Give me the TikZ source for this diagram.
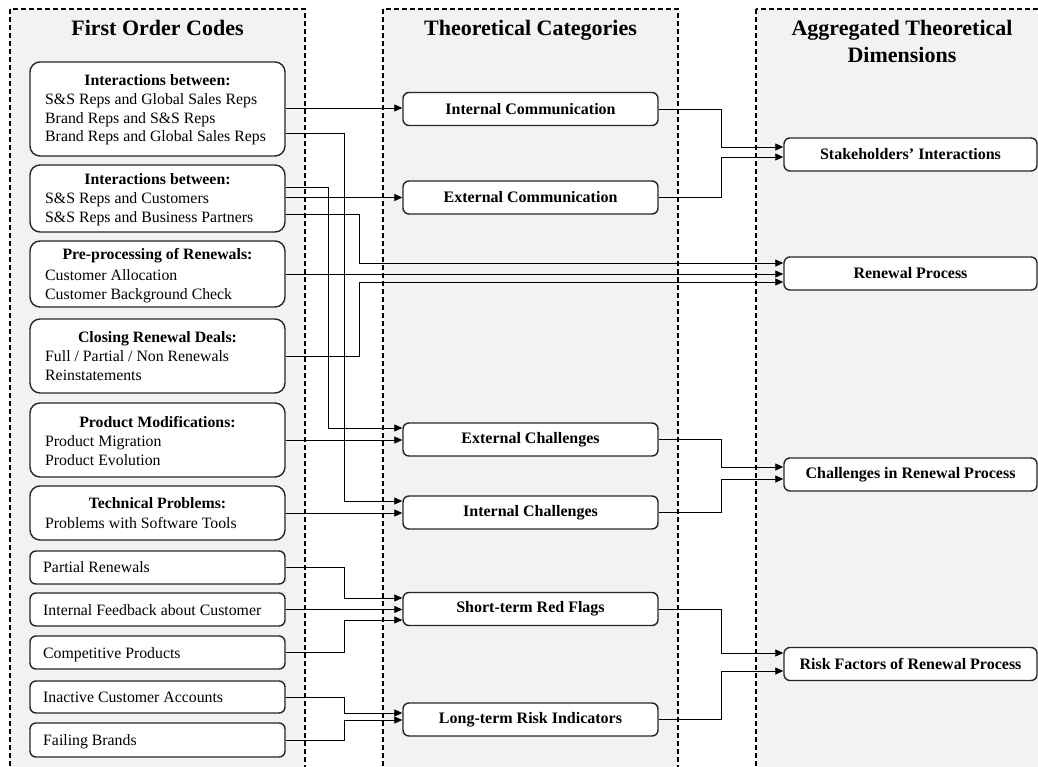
\documentclass[tikz,border=0pt]{standalone}
\usepackage{fontspec}
\setmainfont{Liberation Serif}
\usetikzlibrary{arrows.meta,calc}
\definecolor{panel}{RGB}{242,242,242}
\begin{document}
\begin{tikzpicture}[x=1pt,y=-1pt,
  panelbox/.style={draw=black, fill=panel, line width=1.1pt, dash pattern=on 5pt off 3pt},
  coltitle/.style={font=\fontsize{22}{27}\selectfont\bfseries, inner sep=0pt, anchor=base},
  codebox/.style={draw=black!85, fill=white, line width=1.4pt, rounded corners=10pt, minimum width=255pt, inner sep=0pt},
  itembox/.style={draw=black!85, fill=white, line width=1.4pt, rounded corners=6pt, minimum width=255pt, inner sep=0pt},
  hd/.style={font=\fontsize{15.8}{19}\selectfont\bfseries, inner sep=0pt, anchor=base},
  ln/.style={font=\fontsize{15.8}{19}\selectfont, inner sep=0pt, anchor=base west},
  catbox/.style={draw=black!85, fill=white, line width=1.4pt, rounded corners=6pt, minimum width=255pt, minimum height=33pt, font=\fontsize{16}{19}\selectfont\bfseries},
  dimbox/.style={catbox, minimum width=253pt, minimum height=33pt},
  arr/.style={draw=black, line width=0.85pt, -{Triangle[length=8pt,width=7pt]}}
]
\useasboundingbox (0,0) rectangle (1038,767);

% column panels
\draw[panelbox] (10,9) rectangle (305,790);
\draw[panelbox] (383,9) rectangle (678,790);
\draw[panelbox] (756,9) rectangle (1060,790);

% column headings
\node[coltitle] (t1) at (157.5,36) {First Order Codes};
\node[coltitle] (t2) at (530.5,36) {Theoretical Categories};
\node[coltitle] (t3a) at (902,36) {Aggregated Theoretical};
\node[coltitle] (t3b) at (902,63) {Dimensions};

% first order codes
\node[codebox, minimum height=94pt] (c1) at (157.5,109) {};
\node[hd] (c1h) at (157.5,86) {Interactions between:};
\node[ln] (c1a) at (45,105) {S\&S Reps and Global Sales Reps};
\node[ln] (c1b) at (45,123.5) {Brand Reps and S\&S Reps};
\node[ln] (c1c) at (45,142) {Brand Reps and Global Sales Reps};

\node[codebox, minimum height=67pt] (c2) at (157.5,198.5) {};
\node[hd] (c2h) at (157.5,185) {Interactions between:};
\node[ln] (c2a) at (45,204) {S\&S Reps and Customers};
\node[ln] (c2b) at (45,223) {S\&S Reps and Business Partners};

\node[codebox, minimum height=66pt] (c3) at (157.5,274) {};
\node[hd] (c3h) at (157.5,260) {Pre-processing of Renewals:};
\node[ln] (c3a) at (45,280) {Customer Allocation};
\node[ln] (c3b) at (45,299) {Customer Background Check};

\node[codebox, minimum height=74pt] (c4) at (157.5,356) {};
\node[hd] (c4h) at (157.5,342) {Closing Renewal Deals:};
\node[ln] (c4a) at (45,361) {Full / Partial / Non Renewals};
\node[ln] (c4b) at (45,380) {Reinstatements};

\node[codebox, minimum height=74pt] (c5) at (157.5,440) {};
\node[hd] (c5h) at (157.5,427) {Product Modifications:};
\node[ln] (c5a) at (45,446) {Product Migration};
\node[ln] (c5b) at (45,465) {Product Evolution};

\node[codebox, minimum height=54pt] (c6) at (157.5,513) {};
\node[hd] (c6h) at (157.5,508) {Technical Problems:};
\node[ln] (c6a) at (45,528) {Problems with Software Tools};

\node[itembox, minimum height=33pt] (p1) at (157.5,567.5) {};
\node[ln] (p1t) at (43,572) {Partial Renewals};
\node[itembox, minimum height=33pt] (p2) at (157.5,609.5) {};
\node[ln] (p2t) at (43,615) {Internal Feedback about Customer};
\node[itembox, minimum height=33pt] (p3) at (157.5,652.5) {};
\node[ln] (p3t) at (43,658) {Competitive Products};
\node[itembox, minimum height=32pt] (p4) at (157.5,697) {};
\node[ln] (p4t) at (43,702) {Inactive Customer Accounts};
\node[itembox, minimum height=34pt] (p5) at (157.5,740) {};
\node[ln] (p5t) at (43,745) {Failing Brands};

% theoretical categories
\node[catbox] (ic)  at (530.5,109)   {Internal Communication};
\node[catbox] (ec)  at (530.5,197.5) {External Communication};
\node[catbox] (ech) at (530.5,439.5) {External Challenges};
\node[catbox] (ich) at (530.5,512.5) {Internal Challenges};
\node[catbox] (sr)  at (530.5,609)   {Short-term Red Flags};
\node[catbox] (lr)  at (530.5,719.5) {Long-term Risk Indicators};

% aggregated dimensions
\node[dimbox] (si) at (910.5,154.5) {Stakeholders’ Interactions};
\node[dimbox] (rp) at (910.5,273.5) {Renewal Process};
\node[dimbox] (cr) at (910.5,474.5) {Challenges in Renewal Process};
\node[dimbox] (rf) at (910.5,664)   {Risk Factors of Renewal Process};

% codes -> categories
\draw[arr] ([yshift=1pt]c1.east) -- ([yshift=1pt]ic.west);
\draw[arr] ([yshift=-24pt]c1.east) -- ++(59,0) |- ([yshift=11.5pt]ich.west);
\draw[arr] ([yshift=11.5pt]c2.east) -- ++(43,0) |- ([yshift=11.5pt]ech.west);
\draw[arr] (c2.east |- ec.west) -- (ec.west);
\draw[arr] ([yshift=-15.5pt]c2.east) -- ++(74,0) |- ([yshift=10.5pt]rp.west);
\draw[arr] (c3.east) -- (c3.east -| rp.west);
\draw[arr] (c4.east) -- ++(74,0) |- ([yshift=-8.5pt]rp.west);
\draw[arr] (c5.east) -- (c5.east -| ech.west);
\draw[arr] (c6.east) -- (c6.east -| ich.west);
\draw[arr] (p1.east) -- ++(59,0) |- ([yshift=11pt]sr.west);
\draw[arr] (p2.east) -- (p2.east -| sr.west);
\draw[arr] (p3.east) -- ++(59,0) |- ([yshift=-11pt]sr.west);
\draw[arr] (p4.east) -- ++(59,0) |- ([yshift=6.5pt]lr.west);
\draw[arr] (p5.east) -- ++(59,0) |- ([yshift=-0.5pt]lr.west);

% categories -> dimensions
\draw[arr] (ic.east)  -- ++(63,0) |- ([yshift=7.5pt]si.west);
\draw[arr] (ec.east)  -- ++(63,0) |- ([yshift=-2.5pt]si.west);
\draw[arr] (ech.east) -- ++(63,0) |- ([yshift=7.5pt]cr.west);
\draw[arr] (ich.east) -- ++(63,0) |- ([yshift=-4.5pt]cr.west);
\draw[arr] (sr.east)  -- ++(63,0) |- ([yshift=11pt]rf.west);
\draw[arr] (lr.east)  -- ++(63,0) |- ([yshift=-7pt]rf.west);
\end{tikzpicture}
\end{document}
